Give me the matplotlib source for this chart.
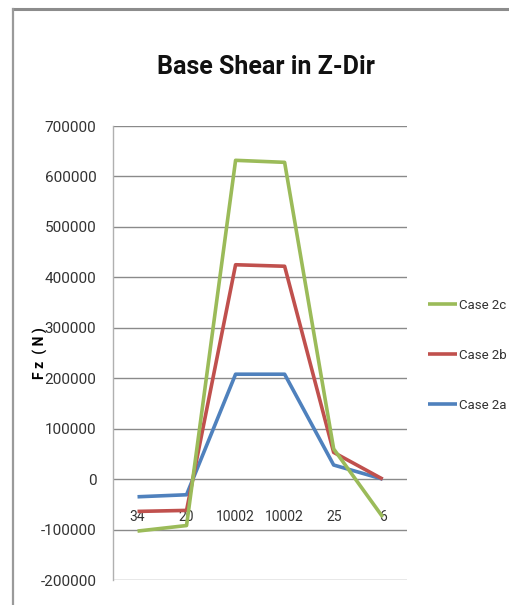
import matplotlib
matplotlib.use("Agg")
import matplotlib.pyplot as plt
from matplotlib.lines import Line2D

# base shear per case along the categories
categories = ["34", "20", "10002", "10002", "25", "6"]
case_2a = [-35000, -31000, 208000, 208000, 28000, 0]
case_2b = [-64000, -62000, 425000, 422000, 53000, 0]
case_2c = [-103000, -92000, 632000, 628000, 60000, -75000]
yticks = [-200000, -100000, 0, 100000, 200000, 300000, 400000, 500000, 600000, 700000]

font = ["Roboto", "DejaVu Sans"]

fig = plt.figure(figsize=(5.09, 6.05), dpi=100)
ax = fig.add_axes([0.222, 0.0413, 0.578, 0.7504])

x = range(len(categories))
ax.plot(x, case_2a, color="#4F81BD", lw=2.6, solid_capstyle="butt", zorder=3, label="Case 2a")
ax.plot(x, case_2b, color="#C0504D", lw=2.6, solid_capstyle="butt", zorder=4, label="Case 2b")
ax.plot(x, case_2c, color="#9BBB59", lw=2.6, solid_capstyle="butt", zorder=5, label="Case 2c")

ax.set_xlim(-0.5, len(categories) - 0.5)
ax.set_ylim(-200000, 700000)
ax.set_yticks(yticks)
ax.set_yticklabels([str(v) for v in yticks], family=font, fontsize=11, color="#333333")
ax.tick_params(axis="y", length=0, pad=12)
ax.set_xticks([])
ax.yaxis.grid(True, color="#8a8a8a", lw=1.0)
ax.set_axisbelow(True)
for s in ["top", "right", "bottom"]:
    ax.spines[s].set_visible(False)
ax.spines["left"].set_color("#b0b0b0")
ax.spines["left"].set_linewidth(1.0)

# category labels sit just under the zero line
for i, c in enumerate(categories):
    ax.text(i, -76000, c, ha="center", va="center", family=font,
            fontsize=10, color="#333333", zorder=1)

ax.set_ylabel("F z  ( N )", family=font, fontsize=10, fontweight="bold", labelpad=0)
ax.yaxis.set_label_coords(-0.22, 0.5)

fig.text(0.523, 0.889, "Base Shear in Z-Dir", ha="center", va="center",
         family=font, fontsize=18, fontweight="bold", color="#111111")

handles, labels = ax.get_legend_handles_labels()
leg = fig.legend(handles[::-1], labels[::-1], loc="center left",
                 bbox_to_anchor=(0.841, 0.413), frameon=False, borderpad=0,
                 borderaxespad=0, prop={"family": font, "size": 9.5},
                 handlelength=2.2, handletextpad=0.15, labelspacing=2.8)
for t in leg.get_texts():
    t.set_color("#333333")

# outer chart frame
fig.add_artist(Line2D([13 / 509, 1.0], [1 - 9 / 605, 1 - 9 / 605],
                      transform=fig.transFigure, color="#8c8c8c", lw=2.2))
fig.add_artist(Line2D([13 / 509, 13 / 509], [0.0, 1 - 9 / 605],
                      transform=fig.transFigure, color="#9a9a9a", lw=1.6))

fig.savefig("out.png", dpi=100, facecolor="white")
